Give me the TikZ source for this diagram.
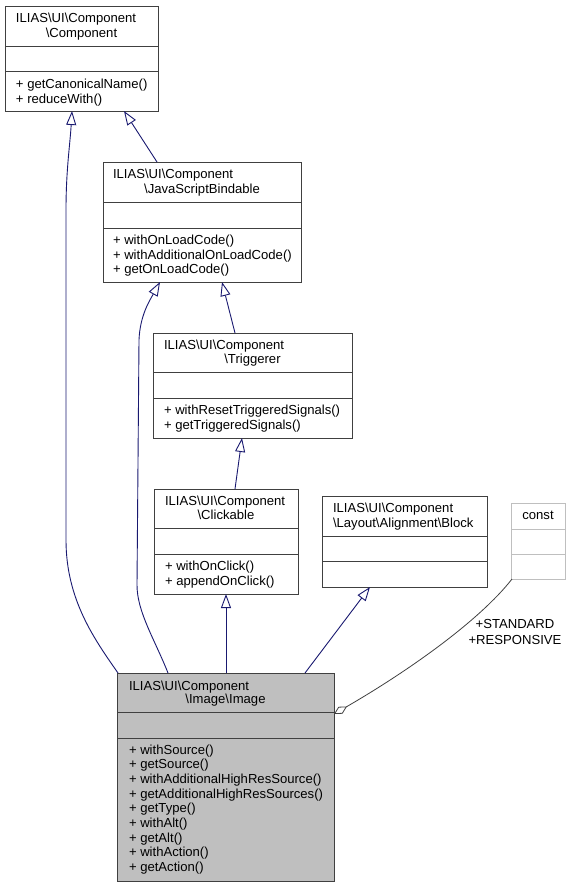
\documentclass[tikz,border=0pt]{standalone}
\usepackage{fontspec}
\setmainfont{Liberation Sans}
\usetikzlibrary{arrows.meta}
\definecolor{edgeblue}{HTML}{191970}
\definecolor{boxc}{HTML}{404040}
\definecolor{constc}{HTML}{BFBFBF}
\definecolor{imgfill}{HTML}{BFBFBF}
\definecolor{graylink}{HTML}{404040}
\newcommand{\BSL}{\textbackslash}
\begin{document}
\begin{tikzpicture}[x=1pt,y=-1pt,
  box/.style={draw=boxc, line width=1pt, fill=white, inner sep=0pt, outer sep=0pt, anchor=north west},
  sep/.style={draw=boxc, line width=1pt},
  txt/.style={inner sep=0pt, outer sep=0pt, font=\fontsize{13.1}{14.67}\selectfont, anchor=base west},
  ctxt/.style={txt, anchor=base},
  inh/.style={draw=edgeblue, line width=0.9pt, -{Triangle[open, length=14pt, width=10pt, fill=white]}},
  agg/.style={draw=graylink, line width=0.8pt, -{Diamond[open, length=15pt, width=8pt, fill=white]}}
]
\useasboundingbox (0,0) rectangle (571,887);

% Component
\node[box, minimum width=153, minimum height=105] (comp) at (5,6) {};
\draw[sep] (comp.west |- 0,46) -- (comp.east |- 0,46);
\draw[sep] (comp.west |- 0,71) -- (comp.east |- 0,71);
\node[txt] (comp-t1) at (16,22) {ILIAS\BSL UI\BSL Component};
\node[ctxt] (comp-t2) at (81.5,37) {\BSL Component};
\node[txt] (comp-m1) at (16,88) {+ getCanonicalName()};
\node[txt] (comp-m2) at (16,103) {+ reduceWith()};

% JavaScriptBindable
\node[box, minimum width=198, minimum height=120] (jsb) at (103,162) {};
\draw[sep] (jsb.west |- 0,202) -- (jsb.east |- 0,202);
\draw[sep] (jsb.west |- 0,228) -- (jsb.east |- 0,228);
\node[txt] (jsb-t1) at (113,178) {ILIAS\BSL UI\BSL Component};
\node[ctxt] (jsb-t2) at (202,193) {\BSL JavaScriptBindable};
\node[txt] (jsb-m1) at (113,244) {+ withOnLoadCode()};
\node[txt] (jsb-m2) at (113,259) {+ withAdditionalOnLoadCode()};
\node[txt] (jsb-m3) at (113,273) {+ getOnLoadCode()};

% Triggerer
\node[box, minimum width=199, minimum height=105] (trig) at (153,333) {};
\draw[sep] (trig.west |- 0,372) -- (trig.east |- 0,372);
\draw[sep] (trig.west |- 0,398) -- (trig.east |- 0,398);
\node[txt] (trig-t1) at (164,349) {ILIAS\BSL UI\BSL Component};
\node[ctxt] (trig-t2) at (252.5,363) {\BSL Triggerer};
\node[txt] (trig-m1) at (164,414) {+ withResetTriggeredSignals()};
\node[txt] (trig-m2) at (164,429) {+ getTriggeredSignals()};

% Clickable
\node[box, minimum width=144, minimum height=105] (click) at (154,489) {};
\draw[sep] (click.west |- 0,528) -- (click.east |- 0,528);
\draw[sep] (click.west |- 0,554) -- (click.east |- 0,554);
\node[txt] (click-t1) at (165,505) {ILIAS\BSL UI\BSL Component};
\node[ctxt] (click-t2) at (226,519) {\BSL Clickable};
\node[txt] (click-m1) at (165,570) {+ withOnClick()};
\node[txt] (click-m2) at (165,585) {+ appendOnClick()};

% Block
\node[box, minimum width=165, minimum height=91] (block) at (322,496) {};
\draw[sep] (block.west |- 0,536) -- (block.east |- 0,536);
\draw[sep] (block.west |- 0,561) -- (block.east |- 0,561);
\node[txt] (block-t1) at (333,512) {ILIAS\BSL UI\BSL Component};
\node[txt] (block-t2) at (333,527) {\BSL Layout\BSL Alignment\BSL Block};

% const
\node[box, draw=constc, minimum width=54, minimum height=76] (const) at (511,503) {};
\draw[draw=constc, line width=1pt] (const.west |- 0,529) -- (const.east |- 0,529);
\draw[draw=constc, line width=1pt] (const.west |- 0,554) -- (const.east |- 0,554);
\node[ctxt] (const-t) at (538,519) {const};

% Image
\node[box, fill=imgfill, minimum width=217, minimum height=208] (img) at (117,673) {};
\draw[sep] (img.west |- 0,712) -- (img.east |- 0,712);
\draw[sep] (img.west |- 0,738) -- (img.east |- 0,738);
\node[txt] (img-t1) at (129,690) {ILIAS\BSL UI\BSL Component};
\node[ctxt] (img-t2) at (225.5,703) {\BSL Image\BSL Image};
\node[txt] (img-m1) at (129,754) {+ withSource()};
\node[txt] (img-m2) at (129,768.67) {+ getSource()};
\node[txt] (img-m3) at (129,783.33) {+ withAdditionalHighResSource()};
\node[txt] (img-m4) at (129,798) {+ getAdditionalHighResSources()};
\node[txt] (img-m5) at (129,812.67) {+ getType()};
\node[txt] (img-m6) at (129,827.33) {+ withAlt()};
\node[txt] (img-m7) at (129,842) {+ getAlt()};
\node[txt] (img-m8) at (129,856.67) {+ withAction()};
\node[txt] (img-m9) at (129,871.33) {+ getAction()};

% connector endpoints
\coordinate (img-a) at (img.north -| 118,0);
\coordinate (img-b) at (img.north -| 168,0);
\coordinate (img-c) at (img.north -| 226,0);
\coordinate (img-d) at (img.north -| 305,0);
\coordinate (img-e) at (img.east |- 0,714);
\coordinate (comp-a) at (comp.south -| 72,0);
\coordinate (comp-b) at (comp.south -| 124,0);
\coordinate (jsb-top) at (jsb.north -| 157,0);
\coordinate (jsb-a) at (jsb.south -| 160,0);
\coordinate (jsb-b) at (jsb.south -| 222,0);
\coordinate (trig-top) at (trig.north -| 235,0);
\coordinate (trig-bot) at (trig.south -| 242,0);
\coordinate (click-top) at (click.north -| 235,0);
\coordinate (click-bot) at (click.south -| 226,0);
\coordinate (block-bot) at (block.south -| 370,0);
\coordinate (const-bot) at (const.south -| 512,0);

% inheritance connectors
\draw[inh] (img-a) .. controls (95,640) and (66,600) .. (66,540) -- (66,210) .. controls (66,170) and (70,145) .. (comp-a);
\draw[inh] (jsb-top) -- (comp-b);
\draw[inh] (img-b) .. controls (155,640) and (137,612) .. (137,585) -- (139,340) .. controls (140,315) and (150,300) .. (jsb-a);
\draw[inh] (trig-top) -- (jsb-b);
\draw[inh] (click-top) -- (trig-bot);
\draw[inh] (img-c) -- (click-bot);
\draw[inh] (img-d) -- (block-bot);

% aggregation
\draw[agg] (const-bot) .. controls (480,620) and (410,670) .. (img-e);
\node[txt, anchor=base, align=center, font=\fontsize{13.1}{15.5}\selectfont] (lbl) at (515,644) {+STANDARD\\+RESPONSIVE};
\end{tikzpicture}
\end{document}
